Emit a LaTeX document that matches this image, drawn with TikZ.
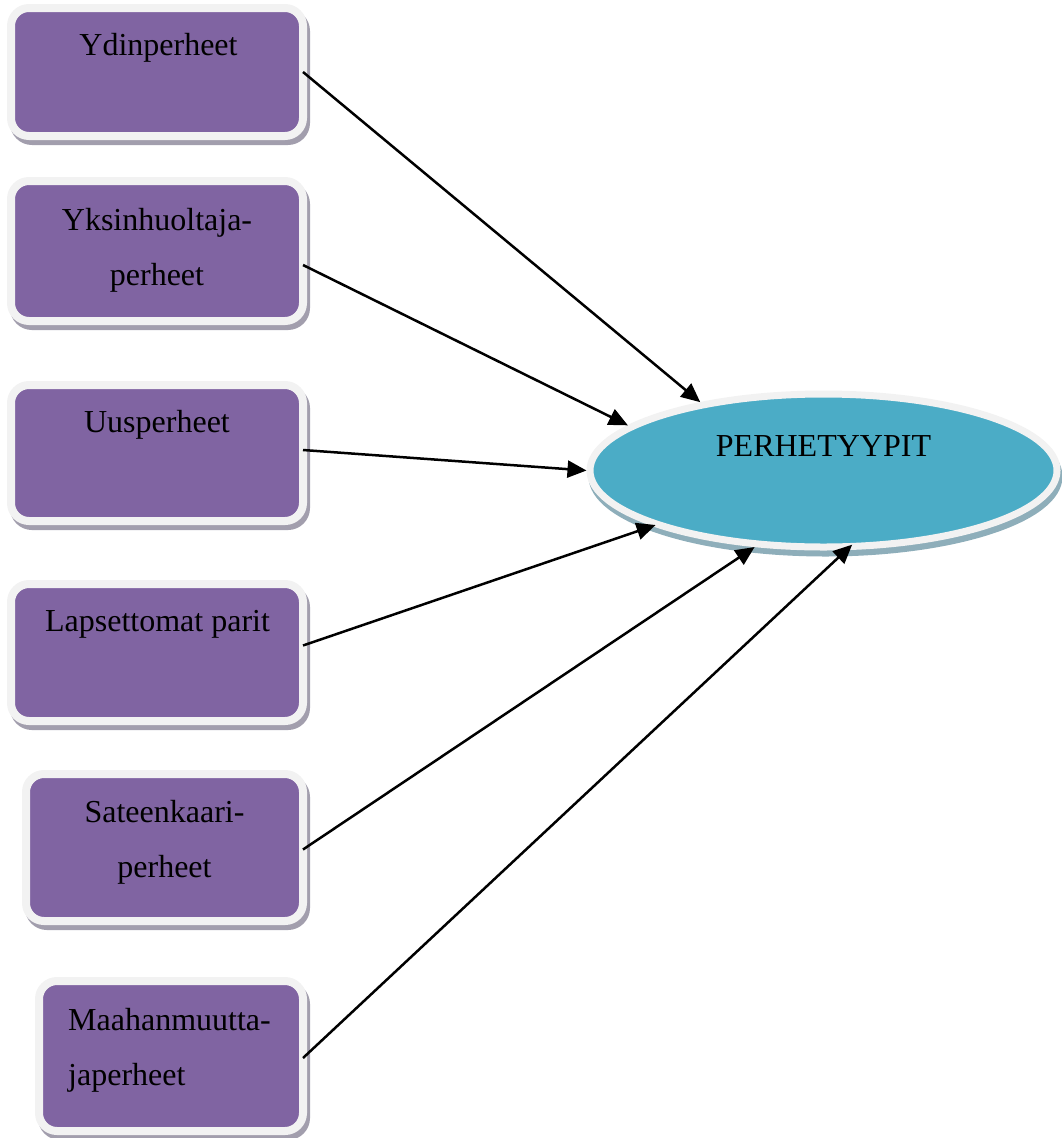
\documentclass[tikz,border=0pt]{standalone}
\usepackage{fontspec}
\setmainfont{Liberation Serif}
\usetikzlibrary{arrows.meta,calc,shapes.geometric}
\definecolor{boxpurple}{HTML}{8064A2}
\definecolor{ellblue}{HTML}{4BACC6}
\definecolor{rimc}{HTML}{F2F2F2}
\definecolor{boxshadow}{HTML}{A29EAD}
\definecolor{ellshadow}{HTML}{8EAEBA}
\tikzset{
  famblock/.style={rectangle, rounded corners=18pt, fill=boxpurple, draw=rimc,
    line width=8pt, inner sep=0pt, outer sep=0pt,
    preaction={fill=boxshadow, draw=boxshadow, transform canvas={xshift=3pt,yshift=-5pt}}},
  mainell/.style={ellipse, fill=ellblue, draw=rimc, line width=7pt, inner sep=0pt,
    preaction={fill=ellshadow, draw=ellshadow, transform canvas={xshift=2pt,yshift=-6pt}}},
  lbl/.style={font=\fontsize{32}{55}\selectfont, inner sep=0pt, anchor=base, align=center},
  conn/.style={-{Triangle[length=19pt,width=17pt]}, line width=2.5pt, black}
}
\begin{document}
\begin{tikzpicture}[x=1pt,y=-1pt]
\useasboundingbox (0,0) rectangle (1062,1138);
% boxes
\node[famblock, minimum width=292pt, minimum height=128pt] (b1) at (157,72) {};
\node[famblock, minimum width=292pt, minimum height=140pt] (b2) at (157,251) {};
\node[famblock, minimum width=292pt, minimum height=136pt] (b3) at (157,453) {};
\node[famblock, minimum width=292pt, minimum height=137pt] (b4) at (157,652.5) {};
\node[famblock, minimum width=277pt, minimum height=147pt] (b5) at (164.5,847.5) {};
\node[famblock, minimum width=264pt, minimum height=150pt] (b6) at (171,1056) {};
% ellipse
\node[mainell, minimum width=467pt, minimum height=153pt] (ell) at (823.5,470.5) {};
% texts (base anchor = baseline of last line)
\node[lbl] (t1) at (158.5,55) {Ydinperheet};
\node[lbl] (t2) at (157,285) {Yksinhuoltaja-\\perheet};
\node[lbl] (t3) at (157,432) {Uusperheet};
\node[lbl] (t4) at (157.5,631) {Lapsettomat parit};
\node[lbl] (t5) at (164.5,877) {Sateenkaari-\\perheet};
\node[lbl, align=left, anchor=base west] (t6) at (68,1085) {Maahanmuutta-\\japerheet};
\node[lbl] (te) at (823.5,456) {PERHETYYPIT};
% connectors
\draw[conn] (b1.east) -- (ell.151.7);
\draw[conn] ([yshift=-14pt]b2.east) -- (ell.167.5);
\draw[conn] ([yshift=3pt]b3.east) -- (ell.180);
\draw[conn, shorten >=-3pt] ([yshift=7pt]b4.east) -- (ell.198.6);
\draw[conn] ([yshift=-2pt]b5.east) -- (ell.228.2);
\draw[conn, shorten >=-8pt] ([yshift=-2pt]b6.east) -- (ell.286.4);
\end{tikzpicture}
\end{document}
